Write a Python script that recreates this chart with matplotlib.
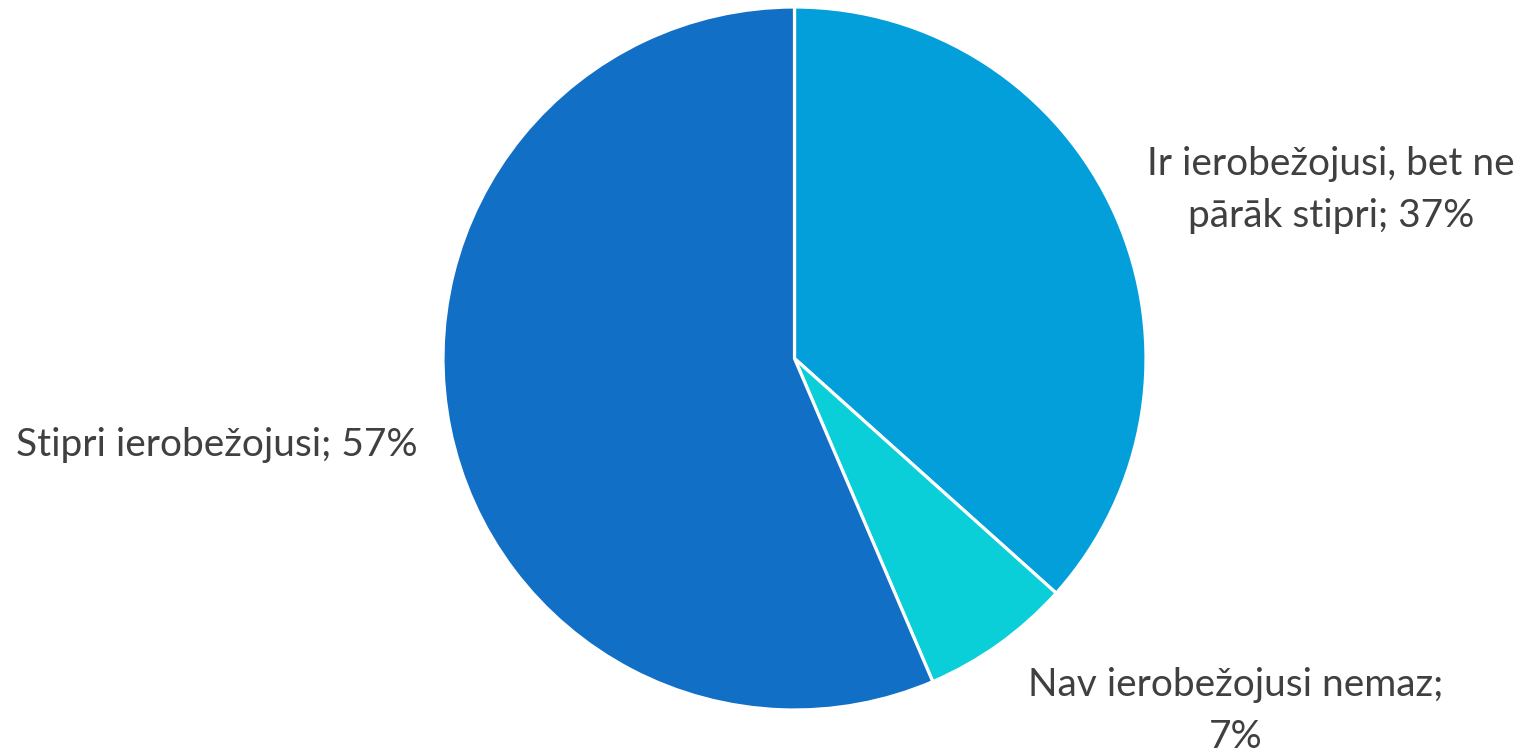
import matplotlib.pyplot as plt

# Atbilžu kategorijas un to daļas (%)
labels = ['Ir ierobežojusi, bet ne\npārāk stipri', 'Nav ierobežojusi nemaz;\n', 'Stipri ierobežojusi']
values = [37, 7, 57]
colors = ['#039FDA', '#0BCFD8', '#116FC5']

W, H = 1529, 755
fig = plt.figure(figsize=(W / 100, H / 100), dpi=100)

# pīrāga centrs un rādiuss pikseļos
cx, cy, r = 794.5, 358.5, 351.5
ax = fig.add_axes([(cx - r) / W, (H - cy - r) / H, 2 * r / W, 2 * r / H])

ax.pie(values, colors=colors, startangle=90, counterclock=False, radius=1,
       wedgeprops=dict(edgecolor='white', linewidth=2.3))
ax.set_xlim(-1, 1)
ax.set_ylim(-1, 1)
ax.set_aspect('equal')
ax.axis('off')


def px(x, y):
    return (x - cx) / r, (cy - y) / r


font = dict(family='Lato', fontsize=28, color='#404040', ha='center', va='center',
            linespacing=1.52)
texts = [
    ('Ir ierobežojusi, bet ne\npārāk stipri; 37%', 1331, 190),
    ('Nav ierobežojusi nemaz;\n7%', 1236, 711),
    ('Stipri ierobežojusi; 57%', 217, 445),
]
for t, x, y in texts:
    ax.text(*px(x, y), t, clip_on=False, **font)

fig.savefig('out.png', dpi=100)
